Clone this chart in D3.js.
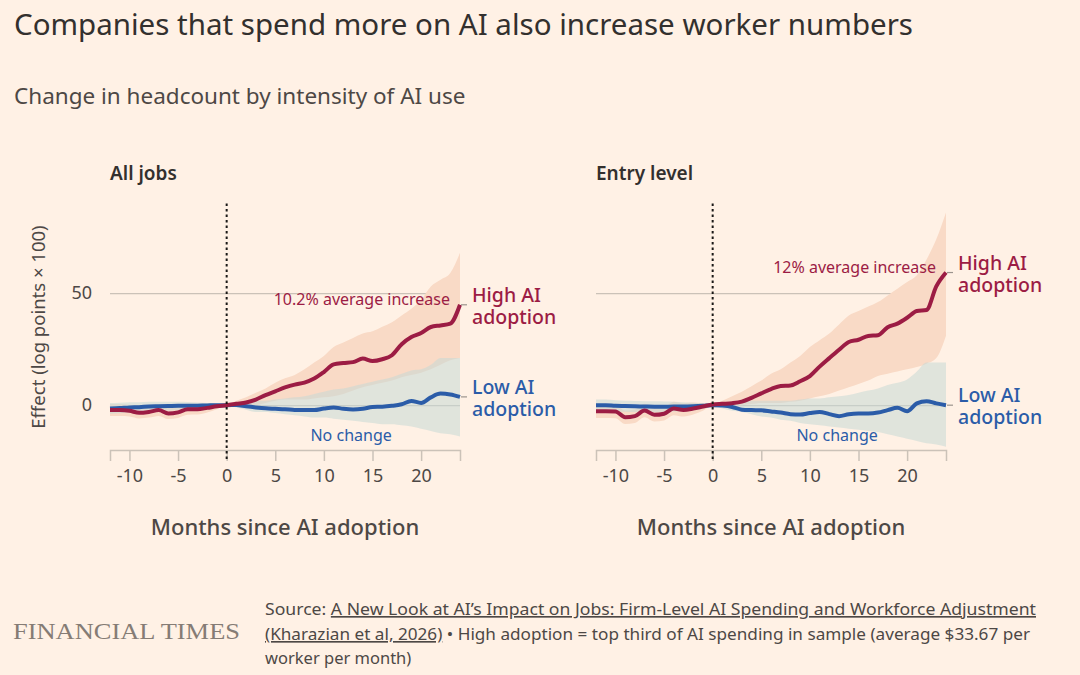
<!DOCTYPE html>
<html>
<head>
<meta charset="utf-8">
<script src="https://cdn.jsdelivr.net/npm/d3@7"></script>
<style>
  body { margin: 0; background: #FFF1E5; }
  svg { display: block; font-family: "Noto Sans", sans-serif; }
</style>
</head>
<body>
<div id="chart"></div>
<script>
// months since adoption
var months = d3.range(-12, 25)

// All jobs - high adoption
var allHigh   = [-2.2,-2.2,-2.5,-3.4,-3.0,-2.2,-3.7,-3.2,-1.8,-1.8,-1.2,-0.5,0,0.6,1.2,2.5,4.5,6.2,7.9,9.2,10.1,11.9,14.8,18.2,18.8,19.2,20.8,19.7,20.5,22.3,27.2,30.4,32.2,34.9,35.6,36.4,44.8]
var allHighHi = [0.5,0.5,0.2,-0.8,-0.5,0.3,-1.2,-0.7,0.6,0.6,0.9,0.8,0.3,2,3.5,5.5,7.5,10,12,13.5,16,19,22,26,28,30,32,33,35,37,40,43,47,53,56,59,68]
var allHighLo = [-4.8,-4.8,-5,-5.9,-5.5,-4.8,-6.2,-5.7,-4.3,-4.2,-3.3,-1.8,-0.3,-0.5,-0.5,0,1,2,2.5,2.5,2.5,3,3.5,4,5,6.5,8,9,10,11,12.5,13.5,14.5,16,18,20,21]
// All jobs - low adoption
var allLow    = [-1.5,-1.3,-1,-0.9,-0.6,-0.5,-0.4,-0.3,-0.3,-0.2,-0.1,0,0,0.1,-0.5,-1,-1.4,-1.6,-1.8,-2.1,-2.2,-2.2,-1.5,-1,-1.6,-1.9,-1.6,-0.8,-0.7,-0.3,0.4,1.9,1,3.5,5.2,4.8,3.7]
var allLowHi  = [1,1.1,1.3,1.3,1.5,1.5,1.5,1.5,1.4,1.2,1,0.8,0.3,1,1.5,2,2,2.5,3,3.5,4,5,6,7,7.5,8.5,9.5,10.5,11.5,12.5,14,15.5,16,18,21,21,21]
var allLowLo  = [-3.8,-3.6,-3.3,-3.1,-2.8,-2.6,-2.4,-2.2,-2,-1.7,-1.3,-0.8,-0.3,-1,-2,-3,-3,-3.5,-4,-4.5,-5,-5.5,-5.5,-6,-6.5,-7,-7.5,-8,-8.5,-8.5,-9,-9.5,-10.5,-11.5,-12.5,-13,-14]

// Entry level - high adoption
var entryHigh   = [-2.7,-2.7,-2.8,-5.4,-4.9,-2.4,-4.3,-3.8,-1.5,-2.1,-1.5,-0.6,0.3,0.6,0.9,1.6,3.3,5.3,7.2,8.6,8.8,10.7,13,17.2,21,24.7,28.2,29.2,30.9,31.2,34.8,36.4,39,42,42.5,53,59.2]
var entryHighHi = [0.3,0.3,0.2,-2.4,-1.9,0.6,-1.3,-0.8,1.5,0.9,1.2,1,0.6,2,4,6,8.5,11,14,16,19,22,26,29,32,36,40,42,44,46,49,52,55,58,65,74,86]
var entryHighLo = [-5.7,-5.7,-5.8,-8.4,-7.9,-5.4,-7.3,-6.8,-4.5,-5.1,-4.2,-2.5,-0.3,-0.5,-0.5,0,0.5,1,1,1,1.5,2,3,4,5,6.5,8,9.5,11,13,14,15,16,17,18.5,21,31]
// Entry level - low adoption
var entryLow    = [0,0,-0.3,-0.4,-0.5,-0.6,-0.7,-0.7,-0.6,-0.6,-0.5,-0.3,0,-0.2,-0.8,-2,-2.2,-2.3,-2.8,-3.3,-4,-4.2,-3.5,-3,-4,-4.9,-4,-3.7,-3.7,-3.3,-2.2,-1.2,-2.7,0.8,1.8,0.8,0]
var entryLowHi  = [2.5,2.5,2.2,2,1.9,1.8,1.7,1.6,1.5,1.3,1.1,0.8,0.3,1,1.5,2,2,2,2,2,2,2.5,3,3,3.5,4,4.5,5.5,6.5,7.5,9,10,11.5,15,19,19,19]
var entryLowLo  = [-2.5,-2.5,-2.8,-2.9,-3,-3,-3.1,-3,-2.8,-2.6,-2.2,-1.5,-0.3,-1.5,-2.5,-3,-4,-5,-5.5,-6.5,-7,-8,-8.5,-9,-9.5,-10,-10.5,-11,-11.5,-12,-13,-14,-15,-16,-17,-17.5,-18.5]

var xTicks = [-10, -5, 0, 5, 10, 15, 20]
var yTicks = [0, 50]

var panels = [
    {title: "All jobs", high: allHigh, highHi: allHighHi, highLo: allHighLo, low: allLow, lowHi: allLowHi, lowLo: allLowLo,
     note: "10.2% average increase", left: 110, yLabels: true},
    {title: "Entry level", high: entryHigh, highHi: entryHighHi, highLo: entryHighLo, low: entryLow, lowHi: entryLowHi, lowLo: entryLowLo,
     note: "12% average increase", left: 596, yLabels: false}
]

var dimensions = {
    width: 1080,
    height: 675,
    plotWidth: 350,
    top: 203.5,
    bottom: 450
}

var colors = {
    bg: "#FFF1E5",
    red: "#9C1C44",
    blue: "#2B5CA8",
    redBand: "#F9DAC6",
    blueBand: "#C6D8D6",
    grid: "#CBC2B8",
    text: "#33302E",
    axisText: "#4D4845"
}

const svg = d3.select("#chart")
    .append("svg")
    .attr("width", dimensions.width)
    .attr("height", dimensions.height)

svg.append("rect").attr("width", dimensions.width).attr("height", dimensions.height).attr("fill", colors.bg)

// titles
svg.append("text").attr("x", 14).attr("y", 35)
    .attr("font-size", "29.5px").attr("fill", colors.text)
    .text("Companies that spend more on AI also increase worker numbers")
svg.append("text").attr("x", 14).attr("y", 104)
    .attr("font-size", "22.5px").attr("fill", colors.axisText)
    .text("Change in headcount by intensity of AI use")

// y axis label
svg.append("text")
    .attr("transform", "translate(45,327) rotate(-90)")
    .attr("text-anchor", "middle")
    .attr("font-size", "18.5px").attr("fill", colors.axisText)
    .text("Effect (log points × 100)")

var yScale = d3.scaleLinear().domain([-20, 90]).range([dimensions.bottom, dimensions.top])

panels.forEach(function(p){
    var xScale = d3.scaleLinear().domain([-12, 24]).range([p.left, p.left + dimensions.plotWidth])
    var g = svg.append("g")

    // panel title
    g.append("text").attr("x", p.left).attr("y", 180)
        .attr("font-size", "19px").attr("font-weight", 600).attr("fill", colors.text)
        .text(p.title)

    // gridlines
    var yAxis = g.append("g")
        .attr("transform", `translate(${p.left},0)`)
        .call(d3.axisLeft(yScale).tickValues(yTicks).tickSize(-dimensions.plotWidth).tickPadding(18))
    yAxis.select(".domain").remove()
    yAxis.selectAll("line").attr("stroke", colors.grid).attr("stroke-width", 1.2)
    yAxis.selectAll("text")
        .attr("font-size", "18px").attr("fill", colors.axisText)
        .attr("font-family", "Noto Sans, sans-serif")
        .style("display", p.yLabels ? null : "none")

    // bands
    var area = (hi, lo) => d3.area()
        .x((d, i) => xScale(months[i]))
        .y0((d, i) => yScale(lo[i]))
        .y1((d, i) => yScale(hi[i]))
        .curve(d3.curveMonotoneX)

    g.append("path").datum(months)
        .attr("d", area(p.highHi, p.highLo))
        .attr("fill", colors.redBand)
    g.append("path").datum(months)
        .attr("d", area(p.lowHi, p.lowLo))
        .attr("fill", colors.blueBand).attr("fill-opacity", 0.55)

    // x axis
    var xAxis = g.append("g")
        .attr("transform", `translate(0,${dimensions.bottom})`)
        .call(d3.axisBottom(xScale).tickValues(xTicks).tickSize(11).tickPadding(8).tickFormat(d => String(d)))
    xAxis.select(".domain").attr("stroke", colors.grid).attr("stroke-width", 1.5)
    xAxis.selectAll("line").attr("stroke", colors.grid).attr("stroke-width", 1.5)
    xAxis.selectAll("text")
        .attr("font-size", "18px").attr("fill", colors.axisText)
        .attr("font-family", "Noto Sans, sans-serif")

    g.append("text")
        .attr("x", p.left + 175).attr("y", 535)
        .attr("text-anchor", "middle")
        .attr("font-size", "22px").attr("font-weight", 500).attr("fill", colors.axisText)
        .text("Months since AI adoption")

    // lines
    var line = values => d3.line()
        .x((d, i) => xScale(months[i]))
        .y((d, i) => yScale(values[i]))
        .curve(d3.curveMonotoneX)

    g.append("path").datum(months)
        .attr("d", line(p.low))
        .attr("fill", "none").attr("stroke", colors.blue).attr("stroke-width", 4)
        .attr("stroke-linejoin", "round")
    g.append("path").datum(months)
        .attr("d", line(p.high))
        .attr("fill", "none").attr("stroke", colors.red).attr("stroke-width", 4)
        .attr("stroke-linejoin", "round")

    // adoption month marker
    g.append("line")
        .attr("x1", xScale(0)).attr("x2", xScale(0))
        .attr("y1", dimensions.top).attr("y2", dimensions.bottom + 11)
        .attr("stroke", "#1a1817").attr("stroke-width", 2).attr("stroke-dasharray", "2.5,3")

    // end labels
    var xEnd = xScale(24)
    var labels = [
        {v: p.high[p.high.length - 1], lines: ["High AI", "adoption"], color: colors.red},
        {v: p.low[p.low.length - 1], lines: ["Low AI", "adoption"], color: colors.blue}
    ]
    labels.forEach(function(l){
        var y = yScale(l.v)
        g.append("line").attr("x1", xEnd + 1).attr("x2", xEnd + 7).attr("y1", y).attr("y2", y)
            .attr("stroke", "#9b948d").attr("stroke-width", 1.2)
        l.lines.forEach((s, i) => {
            g.append("text").attr("x", xEnd + 12).attr("y", y - 3 + i * 22)
                .attr("font-size", "19.5px").attr("font-weight", 500).attr("fill", l.color)
                .text(s)
        })
    })

    // annotations
    g.append("text")
        .attr("x", xEnd - 10).attr("y", yScale(p.high[p.high.length - 1]))
        .attr("text-anchor", "end")
        .attr("font-size", "16px").attr("fill", colors.red)
        .text(p.note)
    g.append("text")
        .attr("x", xScale(12.8)).attr("y", 441)
        .attr("text-anchor", "middle")
        .attr("font-size", "16px").attr("fill", colors.blue)
        .text("No change")
})

// footer
svg.append("text").attr("x", 13).attr("y", 639)
    .attr("font-family", "Liberation Serif, DejaVu Serif, serif")
    .attr("font-size", "23px").attr("fill", "#857c75")
    .attr("textLength", 227).attr("lengthAdjust", "spacingAndGlyphs")
    .text("FINANCIAL TIMES")

var source = svg.append("g").attr("font-size", "16.5px").attr("fill", colors.axisText)
var l1 = source.append("text").attr("x", 265).attr("y", 615)
    .attr("textLength", 771).attr("lengthAdjust", "spacingAndGlyphs")
l1.append("tspan").text("Source: ")
l1.append("tspan").attr("text-decoration", "underline")
    .text("A New Look at AI’s Impact on Jobs: Firm-Level AI Spending and Workforce Adjustment")
var l2 = source.append("text").attr("x", 265).attr("y", 640)
    .attr("textLength", 765).attr("lengthAdjust", "spacingAndGlyphs")
l2.append("tspan").attr("text-decoration", "underline").text("(Kharazian et al, 2026)")
l2.append("tspan").text(" • High adoption = top third of AI spending in sample (average $33.67 per")
source.append("text").attr("x", 265).attr("y", 664).text("worker per month)")
</script>
</body>
</html>
